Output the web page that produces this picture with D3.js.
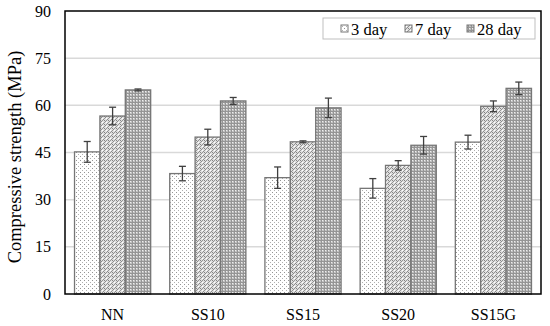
<!DOCTYPE html>
<html><head><meta charset="utf-8">
<script src="https://cdn.jsdelivr.net/npm/d3@7"></script>
<style>body{margin:0;background:#fff}svg{display:block}</style>
</head><body>
<svg id="c" width="550" height="326"></svg>
<script>
const categories = ["NN","SS10","SS15","SS20","SS15G"];
const seriesNames = ["3 day","7 day","28 day"];
const day3 = [45.2, 38.3, 37.0, 33.6, 48.3];
const day7 = [56.6, 49.9, 48.4, 40.9, 59.7];
const day28 = [64.9, 61.4, 59.2, 47.3, 65.4];
const err3 = [3.3, 2.3, 3.4, 3.1, 2.2];
const err7 = [2.8, 2.5, 0.3, 1.5, 1.7];
const err28 = [0.3, 1.1, 3.1, 2.8, 2.0];
const yTicks = [0,15,30,45,60,75,90];

const values = [day3, day7, day28];
const errors = [err3, err7, err28];

const svg = d3.select("#c");
const L=65, R=541, T=11, B=294;
const defs = svg.append("defs");

function pat(id, fn, size){
  const p = defs.append("pattern").attr("id",id).attr("patternUnits","userSpaceOnUse")
    .attr("width",size).attr("height",size);
  fn(p); return "url(#"+id+")";
}
const fills = [
  pat("p3", p=>{
    p.append("rect").attr("width",4).attr("height",4).attr("fill","#fff");
    p.append("rect").attr("x",0).attr("y",0).attr("width",1).attr("height",1).attr("fill","#949494");
    p.append("rect").attr("x",2).attr("y",2).attr("width",1).attr("height",1).attr("fill","#b0b0b0");
  },4),
  pat("p7", p=>{
    p.append("rect").attr("width",4).attr("height",4).attr("fill","#e0e0e0");
    p.append("rect").attr("x",0).attr("y",0).attr("width",1).attr("height",1).attr("fill","#858585");
    p.append("rect").attr("x",2).attr("y",0).attr("width",1).attr("height",1).attr("fill","#959595");
    p.append("rect").attr("x",1).attr("y",1).attr("width",1).attr("height",1).attr("fill","#8a8a8a");
    p.append("rect").attr("x",0).attr("y",2).attr("width",1).attr("height",1).attr("fill","#959595");
    p.append("rect").attr("x",3).attr("y",3).attr("width",1).attr("height",1).attr("fill","#8a8a8a");
    p.append("rect").attr("x",2).attr("y",2).attr("width",1).attr("height",1).attr("fill","#fff");
  },4),
  pat("p28", p=>{
    p.append("rect").attr("width",3).attr("height",3).attr("fill","#c2c2c2");
    p.append("rect").attr("x",0).attr("y",0).attr("width",3).attr("height",1).attr("fill","#959595");
    p.append("rect").attr("x",0).attr("y",0).attr("width",1).attr("height",3).attr("fill","#959595");
    p.append("rect").attr("x",1).attr("y",1).attr("width",1).attr("height",1).attr("fill","#eeeeee");
  },3)
];

const x = d3.scaleBand().domain(categories).range([L,R]).paddingInner(0.2).paddingOuter(0.1);
const xs = d3.scaleBand().domain(seriesNames).range([0,x.bandwidth()]);
const y = d3.scaleLinear().domain([0,90]).range([B,T]);

svg.append("g").selectAll("line").data(yTicks.filter(t=>t>0&&t<90)).join("line")
  .attr("x1",L).attr("x2",R).attr("y1",d=>y(d)).attr("y2",d=>y(d))
  .attr("stroke","#d9d9d9").attr("stroke-width",1.5);

seriesNames.forEach((s,si)=>{
  const g = svg.append("g");
  g.selectAll("rect").data(categories).join("rect")
    .attr("x",c=>x(c)+xs(s)).attr("width",xs.bandwidth())
    .attr("y",(c,i)=>y(values[si][i])).attr("height",(c,i)=>B-y(values[si][i]))
    .attr("fill",fills[si]).attr("stroke","#767676").attr("stroke-width",1.3);
});
seriesNames.forEach((s,si)=>{
  const g = svg.append("g").attr("stroke","#404040").attr("stroke-width",1.3);
  categories.forEach((c,i)=>{
    const cx = x(c)+xs(s)+xs.bandwidth()/2;
    const v=values[si][i], e=errors[si][i];
    g.append("line").attr("x1",cx).attr("x2",cx).attr("y1",y(v+e)).attr("y2",y(v-e));
    g.append("line").attr("x1",cx-3.5).attr("x2",cx+3.5).attr("y1",y(v+e)).attr("y2",y(v+e));
    g.append("line").attr("x1",cx-3.5).attr("x2",cx+3.5).attr("y1",y(v-e)).attr("y2",y(v-e));
  });
});

svg.append("rect").attr("x",L).attr("y",T).attr("width",R-L).attr("height",B-T)
  .attr("fill","none").attr("stroke","#000").attr("stroke-width",1.5);

const font = "'Liberation Serif','Times New Roman',serif";
const ya = svg.append("g").attr("transform",`translate(${L},0)`)
  .call(d3.axisLeft(y).tickValues(yTicks).tickSize(0).tickPadding(14));
ya.select(".domain").remove();
ya.selectAll("text").attr("font-family",font).attr("font-size",16).attr("fill","#000");

const xa = svg.append("g").attr("transform",`translate(0,${B})`)
  .call(d3.axisBottom(x).tickSize(0).tickPadding(15));
xa.select(".domain").remove();
xa.selectAll("text").attr("font-family",font).attr("font-size",16).attr("fill","#000");

svg.append("text").attr("transform",`translate(21,157) rotate(-90)`)
  .attr("text-anchor","middle").attr("font-family",font).attr("font-size",18.5)
  .text("Compressive strength (MPa)");

const lg = svg.append("g");
lg.append("rect").attr("x",323).attr("y",18).attr("width",212).attr("height",21)
  .attr("fill","#fff").attr("stroke","#bfbfbf").attr("stroke-width",1);
const lx = [341, 405, 467];
seriesNames.forEach((s,si)=>{
  lg.append("rect").attr("x",lx[si]).attr("y",25).attr("width",7).attr("height",7)
    .attr("fill",fills[si]).attr("stroke","#767676").attr("stroke-width",1);
  lg.append("text").attr("x",lx[si]+10).attr("y",34.5).attr("font-family",font)
    .attr("font-size",16.5).text(s);
});
</script>
</body></html>
